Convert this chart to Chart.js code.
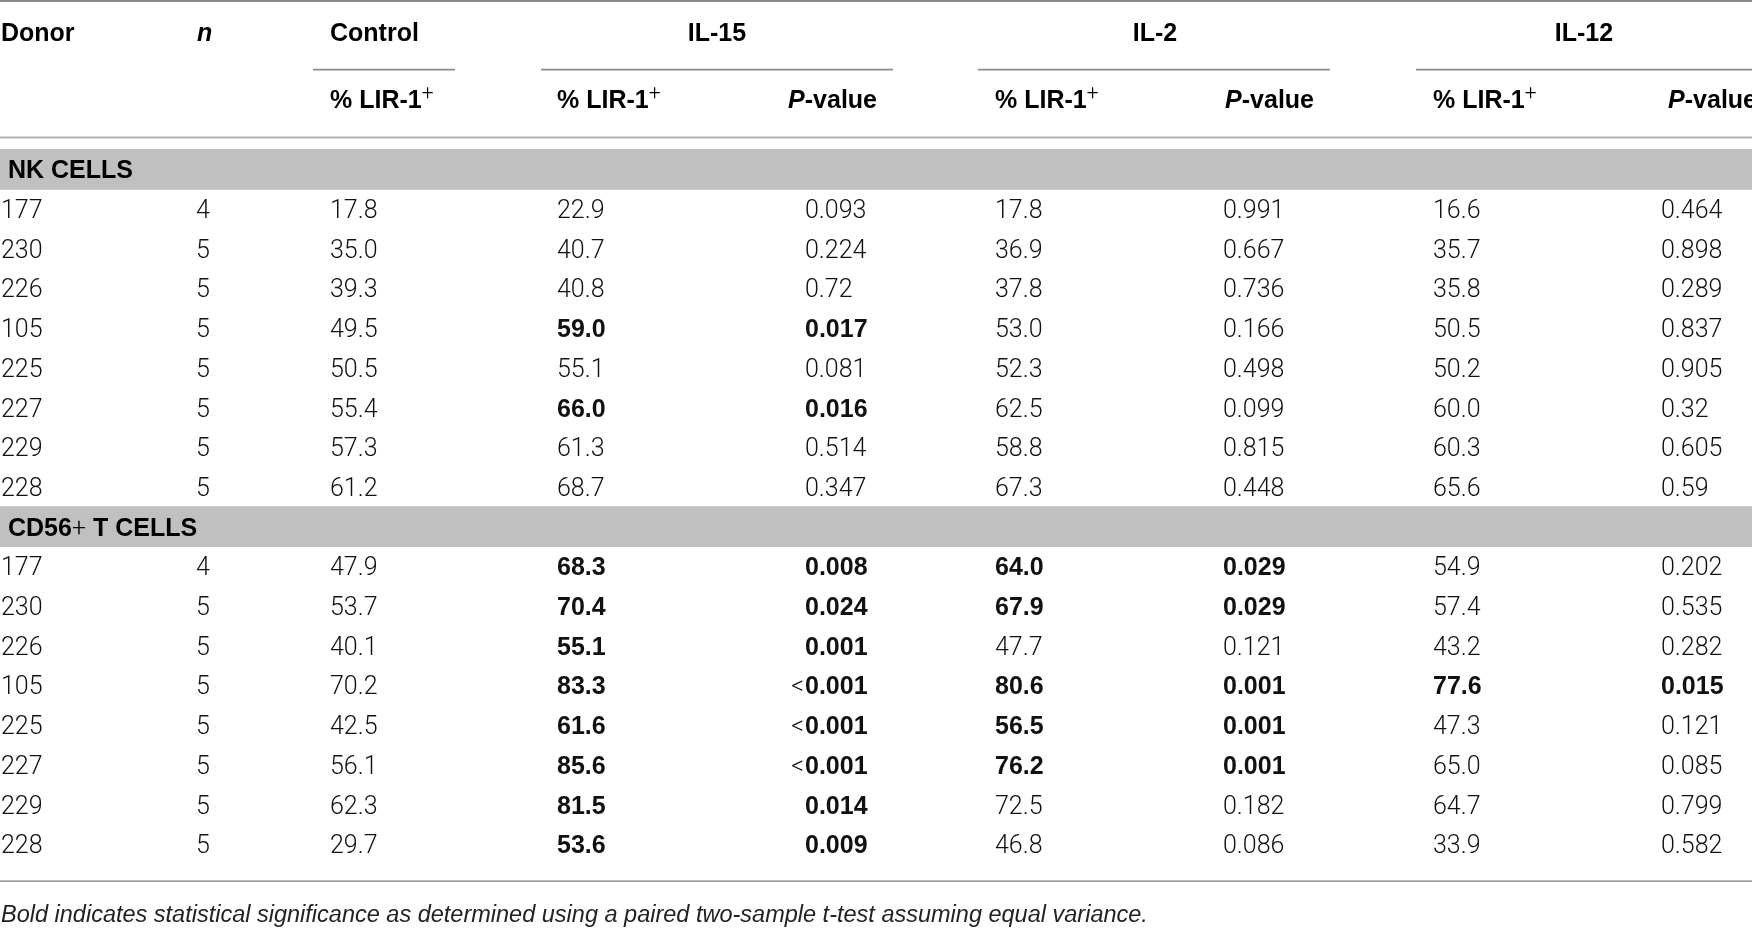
<!DOCTYPE html>
<html>
<head>
<meta charset="utf-8">
<title>LIR-1 expression</title>
<script src="https://cdn.jsdelivr.net/npm/chart.js@4.4.1/dist/chart.umd.min.js"></script>
<style>
  html, body { margin: 0; padding: 0; background: #fff; }
  #wrap { width: 1752px; height: 929px; }
</style>
</head>
<body>
<div id="wrap"><canvas id="myChart" width="1752" height="929"></canvas></div>
<script>
// table values
var donors = ['177', '230', '226', '105', '225', '227', '229', '228'];
var sectionLabels = ['NK CELLS', 'CD56+ T CELLS'];
var treatments = ['IL-15', 'IL-2', 'IL-12'];

var nkN = [4, 5, 5, 5, 5, 5, 5, 5];
var nkControl = [17.8, 35.0, 39.3, 49.5, 50.5, 55.4, 57.3, 61.2];
var nkIL15 = [22.9, 40.7, 40.8, 59.0, 55.1, 66.0, 61.3, 68.7];
var nkIL15P = ['0.093', '0.224', '0.72', '0.017', '0.081', '0.016', '0.514', '0.347'];
var nkIL2 = [17.8, 36.9, 37.8, 53.0, 52.3, 62.5, 58.8, 67.3];
var nkIL2P = ['0.991', '0.667', '0.736', '0.166', '0.498', '0.099', '0.815', '0.448'];
var nkIL12 = [16.6, 35.7, 35.8, 50.5, 50.2, 60.0, 60.3, 65.6];
var nkIL12P = ['0.464', '0.898', '0.289', '0.837', '0.905', '0.32', '0.605', '0.59'];

var cdN = [4, 5, 5, 5, 5, 5, 5, 5];
var cdControl = [47.9, 53.7, 40.1, 70.2, 42.5, 56.1, 62.3, 29.7];
var cdIL15 = [68.3, 70.4, 55.1, 83.3, 61.6, 85.6, 81.5, 53.6];
var cdIL15P = ['0.008', '0.024', '0.001', '<0.001', '<0.001', '<0.001', '0.014', '0.009'];
var cdIL2 = [64.0, 67.9, 47.7, 80.6, 56.5, 76.2, 72.5, 46.8];
var cdIL2P = ['0.029', '0.029', '0.121', '0.001', '0.001', '0.001', '0.182', '0.086'];
var cdIL12 = [54.9, 57.4, 43.2, 77.6, 47.3, 65.0, 64.7, 33.9];
var cdIL12P = ['0.202', '0.535', '0.282', '0.015', '0.121', '0.085', '0.799', '0.582'];

var footnote = 'Bold indicates statistical significance as determined using a paired two-sample t-test assuming equal variance.';

// layout (x in px units, y in row units: 0 = first donor row)
var W = 1752, H = 929;
var ROW_PX = 39.7, FIRST_ROW_PX = 209;
var COLS = { donor: 1, n: 196, control: 330, pct: [557, 995, 1433], p: [805, 1223, 1661] };
var P_HEAD_RIGHT = [877, 1314, 1757];
var SPAN_CENTER = [717, 1155, 1584];
var SPAN_LINES = [[313, 455], [541, 893], [978, 1330], [1416, 1752]];
var Y = { top: -5.24, head1: -4.45, spanLine: -3.51, head2: -2.76, headLine: -1.80, bottom: 16.93, note: 17.74 };
var SECTION_START = [0, 9];

var BODY = '300 25px Roboto, "Liberation Sans", Arial, sans-serif';
var BOLD = 'bold 25px "Liberation Sans", Arial, sans-serif';
var BOLD_IT = 'italic bold 25px "Liberation Sans", Arial, sans-serif';
var SUP = '300 21px Roboto, "Liberation Sans", Arial, sans-serif';
var NOTE = 'italic 23.5px "Liberation Sans", Arial, sans-serif';

var sections = [
    { n: nkN, control: nkControl, pct: [nkIL15, nkIL2, nkIL12], p: [nkIL15P, nkIL2P, nkIL12P] },
    { n: cdN, control: cdControl, pct: [cdIL15, cdIL2, cdIL12], p: [cdIL15P, cdIL2P, cdIL12P] }
];

function isSig(p) {
    if (p.charAt(0) === '<') return true;
    return parseFloat(p) < 0.05;
}

// draws a run of [text, font, dy] pieces
function drawRuns(ctx, runs, px, py, align) {
    var total = 0;
    runs.forEach(function (r) { ctx.font = r[1]; total += ctx.measureText(r[0]).width; });
    var cx = px;
    if (align === 'right') cx = px - total;
    if (align === 'center') cx = px - total / 2;
    ctx.textAlign = 'left';
    ctx.textBaseline = 'alphabetic';
    runs.forEach(function (r) {
        ctx.font = r[1];
        ctx.fillText(r[0], cx, py + (r[2] || 0));
        cx += ctx.measureText(r[0]).width;
    });
}

var tablePlugin = {
    id: 'tableText',
    afterDatasetsDraw: function (chart) {
        var ctx = chart.ctx;
        var xs = chart.scales.x, ys = chart.scales.y;
        var X = function (v) { return xs.getPixelForValue(v); };
        var BL = function (row) { return ys.getPixelForValue(row) + 9; };

        ctx.save();

        function hline(x0, x1, row, color, w) {
            ctx.strokeStyle = color;
            ctx.lineWidth = w;
            ctx.beginPath();
            ctx.moveTo(X(x0), ys.getPixelForValue(row));
            ctx.lineTo(X(x1), ys.getPixelForValue(row));
            ctx.stroke();
        }

        hline(0, W, Y.top, '#8a8a8a', 2);
        SPAN_LINES.forEach(function (s) { hline(s[0], s[1], Y.spanLine, '#8c8c8c', 1.6); });
        hline(0, W, Y.headLine, '#b2b2b2', 2);
        hline(0, W, Y.bottom, '#a0a0a0', 1.6);

        // header rows
        ctx.fillStyle = '#000';
        drawRuns(ctx, [['Donor', BOLD]], X(COLS.donor), BL(Y.head1), 'left');
        drawRuns(ctx, [['n', BOLD_IT]], X(COLS.n + 1), BL(Y.head1), 'left');
        drawRuns(ctx, [['Control', BOLD]], X(COLS.control), BL(Y.head1), 'left');
        treatments.forEach(function (t, k) {
            drawRuns(ctx, [[t, BOLD]], X(SPAN_CENTER[k]), BL(Y.head1), 'center');
        });
        var pctHead = [['% LIR-1', BOLD], ['+', SUP, -9]];
        drawRuns(ctx, pctHead, X(COLS.control), BL(Y.head2), 'left');
        treatments.forEach(function (t, k) {
            drawRuns(ctx, pctHead, X(COLS.pct[k]), BL(Y.head2), 'left');
            drawRuns(ctx, [['P', BOLD_IT], ['-value', BOLD]], X(P_HEAD_RIGHT[k]), BL(Y.head2), 'right');
        });

        // section labels
        drawRuns(ctx, [['NK CELLS', BOLD]], X(8), BL(SECTION_START[0] - 1), 'left');
        drawRuns(ctx, [['CD56', BOLD], ['+', BODY], [' T CELLS', BOLD]], X(8), BL(SECTION_START[1] - 1), 'left');

        // body rows
        ctx.fillStyle = '#111';
        sections.forEach(function (sec, si) {
            donors.forEach(function (d, i) {
                var row = SECTION_START[si] + i;
                var py = BL(row);
                drawRuns(ctx, [[d, BODY]], X(COLS.donor), py, 'left');
                drawRuns(ctx, [[String(sec.n[i]), BODY]], X(COLS.n), py, 'left');
                drawRuns(ctx, [[sec.control[i].toFixed(1), BODY]], X(COLS.control), py, 'left');
                for (var k = 0; k < 3; k++) {
                    var p = sec.p[k][i];
                    var f = isSig(p) ? BOLD : BODY;
                    drawRuns(ctx, [[sec.pct[k][i].toFixed(1), f]], X(COLS.pct[k]), py, 'left');
                    if (p.charAt(0) === '<') {
                        drawRuns(ctx, [['<', BODY]], X(COLS.p[k] - 1), py, 'right');
                        p = p.slice(1);
                    }
                    drawRuns(ctx, [[p, f]], X(COLS.p[k]), py, 'left');
                }
            });
        });

        ctx.fillStyle = '#222';
        drawRuns(ctx, [[footnote, NOTE]], X(1), BL(Y.note), 'left');

        ctx.restore();
    }
};

var ctx = document.getElementById('myChart');
var bandRows = SECTION_START.map(function (s) { return s - 1; });

var table = new Chart(ctx, {
    type: 'bar',
    data: {
        datasets: [{
            label: 'section bands',
            data: bandRows.map(function (r) { return { y: r, x: [0, W] }; }),
            backgroundColor: '#c0c0c0',
            borderWidth: 0,
            barThickness: 40
        }]
    },
    options: {
        indexAxis: 'y',
        responsive: false,
        animation: false,
        devicePixelRatio: 1,
        events: [],
        layout: { padding: 0 },
        plugins: { legend: { display: false }, tooltip: { enabled: false } },
        scales: {
            x: { type: 'linear', min: 0, max: W, display: false, offset: false, bounds: 'data' },
            y: {
                type: 'linear', reverse: true, display: false, offset: false, bounds: 'data',
                min: -FIRST_ROW_PX / ROW_PX,
                max: (H - FIRST_ROW_PX) / ROW_PX
            }
        }
    },
    plugins: [tablePlugin]
});
</script>
</body>
</html>
